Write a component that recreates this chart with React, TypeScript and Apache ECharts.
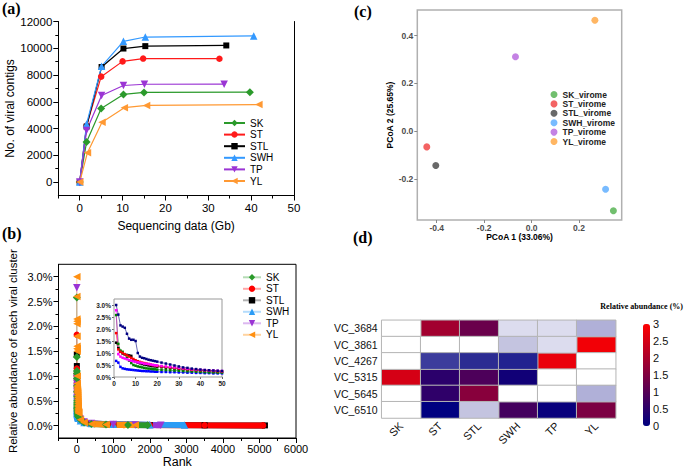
import React, { useEffect, useRef } from 'react';
import * as echarts from 'echarts';

// ---------- Panel (a): accumulation curves ----------
const aSK_x = [0, 1.6, 5.0, 10.2, 15.0, 39.7];
const aSK_y = [0, 3000, 5500, 6550, 6700, 6720];
const aST_x = [0, 1.6, 5.0, 10.0, 14.8, 32.6];
const aST_y = [0, 4200, 7880, 9020, 9230, 9220];
const aSTL_x = [0, 1.6, 5.1, 10.2, 15.3, 34.2];
const aSTL_y = [0, 4150, 8600, 9980, 10160, 10210];
const aSWH_x = [0, 1.6, 5.1, 10.2, 15.3, 40.6];
const aSWH_y = [0, 4350, 8650, 10520, 10840, 10920];
const aTP_x = [0, 1.6, 5.1, 10.2, 15.1, 33.7];
const aTP_y = [0, 3850, 6470, 7220, 7310, 7320];
const aYL_x = [0, 1.8, 5.2, 10.4, 15.6, 41.8];
const aYL_y = [0, 2200, 4480, 5560, 5730, 5790];
const aXTicks = [0, 10, 20, 30, 40, 50];
const aXMinor = [-5, 5, 15, 25, 35, 45];
const aYTicks = [0, 2000, 4000, 6000, 8000, 10000, 12000];
const aYMinor = [1000, 3000, 5000, 7000, 9000, 11000];

// ---------- Panel (b): rank-abundance ----------
const rankTop = [1, 2, 3, 4, 5, 6, 7, 8, 9, 10, 11, 12, 13, 14, 15, 16, 17, 18, 19, 20, 22, 24, 26, 28, 30, 32, 34, 36, 38, 40, 42, 44, 46, 48, 50];
const bSK_top = [2.58, 1.38, 1.1, 1.05, 0.95, 0.8, 0.68, 0.58, 0.5, 0.47, 0.44, 0.42, 0.4, 0.38, 0.36, 0.35, 0.34, 0.33, 0.32, 0.31, 0.3, 0.29, 0.28, 0.27, 0.26, 0.25, 0.24, 0.23, 0.22, 0.21, 0.2, 0.19, 0.19, 0.18, 0.18];
const bST_top = [1.83, 1.15, 1.05, 1.0, 0.95, 0.9, 0.85, 0.8, 0.75, 0.7, 0.66, 0.63, 0.6, 0.58, 0.56, 0.54, 0.52, 0.5, 0.48, 0.46, 0.44, 0.42, 0.4, 0.38, 0.36, 0.34, 0.32, 0.3, 0.29, 0.28, 0.27, 0.26, 0.25, 0.24, 0.23];
const bSTL_top = [1.43, 1.2, 1.05, 0.98, 0.95, 0.92, 0.9, 0.88, 0.7, 0.65, 0.6, 0.57, 0.54, 0.52, 0.5, 0.48, 0.46, 0.45, 0.44, 0.43, 0.41, 0.39, 0.37, 0.35, 0.33, 0.31, 0.3, 0.29, 0.28, 0.27, 0.26, 0.25, 0.24, 0.23, 0.22];
const bSWH_top = [0.67, 0.6, 0.42, 0.36, 0.34, 0.32, 0.31, 0.3, 0.29, 0.28, 0.27, 0.26, 0.25, 0.25, 0.24, 0.24, 0.23, 0.23, 0.22, 0.22, 0.21, 0.21, 0.2, 0.2, 0.19, 0.19, 0.18, 0.18, 0.17, 0.17, 0.16, 0.16, 0.15, 0.15, 0.15];
const bTP_top = [2.78, 0.95, 0.85, 0.8, 0.77, 0.74, 0.7, 0.68, 0.65, 0.63, 0.61, 0.6, 0.58, 0.56, 0.55, 0.54, 0.52, 0.5, 0.49, 0.48, 0.46, 0.44, 0.42, 0.4, 0.38, 0.36, 0.34, 0.32, 0.31, 0.3, 0.29, 0.28, 0.27, 0.26, 0.25];
const bYL_top = [3.0, 2.6, 2.15, 2.1, 2.05, 1.8, 1.6, 1.55, 1.55, 1.5, 1.0, 0.85, 0.8, 0.78, 0.75, 0.72, 0.7, 0.68, 0.66, 0.64, 0.6, 0.56, 0.52, 0.48, 0.44, 0.4, 0.38, 0.35, 0.33, 0.31, 0.29, 0.28, 0.27, 0.26, 0.25];
const bSK_tailRank = [100, 200, 400, 800, 1400, 1940];
const bSK_tailVal = [0.12, 0.06, 0.03, 0.02, 0.012, 0.008];
const bST_tailRank = [100, 200, 400, 1000, 2000, 3500, 5100];
const bST_tailVal = [0.13, 0.07, 0.04, 0.02, 0.012, 0.006, 0.004];
const bSTL_tailRank = [100, 200, 400, 1000, 2000, 3500, 5150];
const bSTL_tailVal = [0.12, 0.06, 0.035, 0.02, 0.01, 0.006, 0.004];
const bSWH_tailRank = [100, 200, 400, 1000, 2000, 2950];
const bSWH_tailVal = [0.1, 0.06, 0.04, 0.025, 0.015, 0.01];
const bTP_tailRank = [100, 200, 400, 1000, 1600, 2300];
const bTP_tailVal = [0.13, 0.07, 0.04, 0.02, 0.012, 0.008];
const bYL_tailRank = [100, 200, 400, 800, 1200, 1600];
const bYL_tailVal = [0.12, 0.06, 0.03, 0.02, 0.014, 0.01];
const bXTicks = [0, 1000, 2000, 3000, 4000, 5000, 6000];
const bXMinor = [-500, 500, 1500, 2500, 3500, 4500, 5500];
const bYTicks = [0, 0.5, 1, 1.5, 2, 2.5, 3];
const bYMinor = [0.25, 0.75, 1.25, 1.75, 2.25, 2.75];

// ---------- Panel (c): PCoA ----------
const pcoaNames = ['SK_virome', 'ST_virome', 'STL_virome', 'SWH_virome', 'TP_virome', 'YL_virome'];
const pcoa1 = [0.345, -0.442, -0.404, 0.312, -0.068, 0.267];
const pcoa2 = [-0.333, -0.066, -0.144, -0.243, 0.311, 0.464];
const pcXTicks = [-0.4, -0.2, 0, 0.2];
const pcYTicks = [-0.2, 0, 0.2, 0.4];

// ---------- Panel (d): heatmap ----------
const heatCols = ['SK', 'ST', 'STL', 'SWH', 'TP', 'YL'];
const heatRows = ['VC_3684', 'VC_3861', 'VC_4267', 'VC_5315', 'VC_5645', 'VC_6510'];
const abundance = [
  [null, 1.9, 1.25, null, null, null],
  [null, null, null, null, null, 2.85],
  [null, null, null, null, 2.75, null],
  [2.5, 0.5, 0.9, 0.2, null, null],
  [null, 0.55, 1.6, null, null, null],
  [null, 0, null, 0.8, 0.1, 1.45],
];
const shade = [
  [0, null, null, 1, 1, 3],
  [0, 0, 0, 2, 1, null],
  [0, 4, 5, 6, null, 0],
  [null, null, null, null, 0, 0],
  [0, null, null, 0, 0, 3],
  [0, null, 2, null, null, null],
];

const FONT = '"Liberation Sans", Arial, sans-serif';
const SERIF = '"Liberation Serif", "Times New Roman", serif';

const zip = (xs: number[], ys: number[]) => xs.map((x, i) => [x, ys[i]]);

function buildOption() {
  const aDefs = [
    { name: 'SK', x: aSK_x, y: aSK_y, color: '#2b9a2b', symbol: 'diamond', size: 8, rot: 0 },
    { name: 'ST', x: aST_x, y: aST_y, color: '#ff1a1a', symbol: 'circle', size: 6.5, rot: 0 },
    { name: 'STL', x: aSTL_x, y: aSTL_y, color: '#000000', symbol: 'rect', size: 6, rot: 0 },
    { name: 'SWH', x: aSWH_x, y: aSWH_y, color: '#3399ff', symbol: 'triangle', size: 7.5, rot: 0 },
    { name: 'TP', x: aTP_x, y: aTP_y, color: '#9b35d4', symbol: 'triangle', size: 7.5, rot: 180 },
    { name: 'YL', x: aYL_x, y: aYL_y, color: '#ff9933', symbol: 'triangle', size: 7.5, rot: 90 },
  ];
  const bDefs: any = {
    SK: { top: bSK_top, tr: bSK_tailRank, tv: bSK_tailVal, color: '#2a9a2a', light: 'rgba(42,154,42,0.35)', inset: '#008000', symbol: 'diamond', size: 8, rot: 0 },
    ST: { top: bST_top, tr: bST_tailRank, tv: bST_tailVal, color: '#ff0000', light: 'rgba(255,0,0,0.35)', inset: '#ff0000', symbol: 'circle', size: 6.5, rot: 0 },
    STL: { top: bSTL_top, tr: bSTL_tailRank, tv: bSTL_tailVal, color: '#000000', light: 'rgba(0,0,0,0.3)', inset: '#000000', symbol: 'rect', size: 6, rot: 0 },
    SWH: { top: bSWH_top, tr: bSWH_tailRank, tv: bSWH_tailVal, color: '#2b9cf5', light: 'rgba(43,156,245,0.35)', inset: '#0000ff', symbol: 'triangle', size: 7.5, rot: 0 },
    TP: { top: bTP_top, tr: bTP_tailRank, tv: bTP_tailVal, color: '#9b35d4', light: 'rgba(155,53,212,0.35)', inset: '#ff00ff', symbol: 'triangle', size: 7.5, rot: 180 },
    YL: { top: bYL_top, tr: bYL_tailRank, tv: bYL_tailVal, color: '#ff9011', light: 'rgba(255,144,17,0.4)', inset: '#000080', symbol: 'triangle', size: 7.5, rot: 90 },
  };
  const bOrder = ['STL', 'ST', 'SWH', 'TP', 'SK', 'YL'];
  const insetOrder = ['SWH', 'STL', 'SK', 'ST', 'TP', 'YL'];
  const pcColors = ['#4daf4a', '#f03c3c', '#444444', '#56aaff', '#b563dd', '#ffa43c'];

  const series: any[] = [];
  aDefs.forEach((d) => {
    series.push({
      type: 'line', name: d.name, xAxisIndex: 0, yAxisIndex: 0,
      data: zip(d.x, d.y), symbol: d.symbol, symbolSize: d.size, symbolRotate: d.rot,
      lineStyle: { width: 1.2, color: d.color }, itemStyle: { color: d.color },
    });
  });
  bOrder.forEach((g) => {
    const d = bDefs[g];
    series.push({
      type: 'line', name: g + ' ', xAxisIndex: 2, yAxisIndex: 3,
      data: [...zip(rankTop, d.top), ...zip(d.tr, d.tv)],
      symbol: d.symbol, symbolSize: d.size, symbolRotate: d.rot,
      lineStyle: { width: 1, color: d.light }, itemStyle: { color: d.color },
    });
  });
  bOrder.forEach((g) => {
    const d = bDefs[g];
    series.push({
      type: 'line', name: g + ' ', xAxisIndex: 2, yAxisIndex: 3,
      data: [[rankTop[rankTop.length - 1], d.top[d.top.length - 1]], ...zip(d.tr, d.tv)],
      symbol: 'none', lineStyle: { width: 6, color: d.color, cap: 'butt' },
      itemStyle: { color: d.color },
    });
  });
  insetOrder.forEach((g) => {
    const d = bDefs[g];
    series.push({
      type: 'line', name: g + '  ', xAxisIndex: 4, yAxisIndex: 5,
      data: zip(rankTop, d.top), symbol: 'rect', symbolSize: 2.5,
      lineStyle: { width: 0.6, color: d.inset }, itemStyle: { color: d.inset },
    });
  });
  pcoaNames.forEach((n, i) => {
    series.push({
      type: 'scatter', name: n, xAxisIndex: 5, yAxisIndex: 6,
      data: [[pcoa1[i], pcoa2[i]]], symbolSize: 7, itemStyle: { color: pcColors[i] },
    });
  });
  const mainData: any[] = [];
  const shadeData: any[] = [];
  heatRows.forEach((_, r) => {
    heatCols.forEach((__, c) => {
      if (abundance[r][c] !== null) mainData.push([c, r, abundance[r][c]]);
      if (shade[r][c] !== null) shadeData.push([c, r, shade[r][c]]);
    });
  });
  const idxMain = series.length;
  series.push({
    type: 'heatmap', name: 'abundance', xAxisIndex: 6, yAxisIndex: 7, data: mainData,
    itemStyle: { borderColor: '#b4b4b4', borderWidth: 1 },
  });
  const idxShade = series.length;
  series.push({
    type: 'heatmap', name: 'shade', xAxisIndex: 6, yAxisIndex: 7, data: shadeData,
    itemStyle: { borderColor: '#b4b4b4', borderWidth: 1 },
  });

  const black = '#000';
  const noSplit = { show: false };

  const xAxis: any[] = [
    { // 0 a major
      type: 'value', gridIndex: 0, min: -5, max: 50, position: 'bottom',
      axisLine: { show: true, onZero: false, lineStyle: { color: black, width: 1 } },
      axisTick: { show: true, length: 5, customValues: aXTicks, lineStyle: { color: black } },
      axisLabel: { customValues: aXTicks, fontSize: 11.5, color: black, margin: 6, formatter: (v: number) => String(v) },
      splitLine: noSplit,
      name: 'Sequencing data (Gb)', nameLocation: 'middle', nameGap: 24,
      nameTextStyle: { fontSize: 12, color: black },
    },
    { // 1 a minor
      type: 'value', gridIndex: 0, min: -5, max: 50, position: 'bottom',
      axisLine: { show: false, onZero: false },
      axisTick: { show: true, length: 3, customValues: aXMinor, lineStyle: { color: black } },
      axisLabel: { show: false }, splitLine: noSplit,
    },
    { // 2 b major
      type: 'value', gridIndex: 1, min: -500, max: 6000, position: 'bottom',
      axisLine: { show: true, onZero: false, lineStyle: { color: black, width: 1 } },
      axisTick: { show: true, length: 5, customValues: bXTicks, lineStyle: { color: black } },
      axisLabel: { customValues: bXTicks, fontSize: 11, color: black, margin: 5, formatter: (v: number) => String(v) },
      splitLine: noSplit,
      name: 'Rank', nameLocation: 'middle', nameGap: 17,
      nameTextStyle: { fontSize: 12.5, color: black },
    },
    { // 3 b minor
      type: 'value', gridIndex: 1, min: -500, max: 6000, position: 'bottom',
      axisLine: { show: false, onZero: false },
      axisTick: { show: true, length: 3, customValues: bXMinor, lineStyle: { color: black } },
      axisLabel: { show: false }, splitLine: noSplit,
    },
    { // 4 inset
      type: 'value', gridIndex: 2, min: 0, max: 50, interval: 10, position: 'bottom',
      axisLine: { show: false, onZero: false },
      axisTick: { show: true, length: 2, lineStyle: { color: '#666' } },
      axisLabel: { fontSize: 6.5, fontWeight: 'bold', color: '#222', margin: 3 },
      splitLine: noSplit,
    },
    { // 5 c
      type: 'value', gridIndex: 3, min: -0.482, max: 0.38, position: 'bottom',
      axisLine: { show: false, onZero: false },
      axisTick: { show: true, length: 3, customValues: pcXTicks, lineStyle: { color: '#888' } },
      axisLabel: { customValues: pcXTicks, fontSize: 8.5, fontWeight: 'bold', color: '#4d4d4d', margin: 3, formatter: (v: number) => v.toFixed(1) },
      splitLine: noSplit,
      name: 'PCoA 1 (33.06%)', nameLocation: 'middle', nameGap: 11,
      nameTextStyle: { fontSize: 8.5, fontWeight: 'bold', color: black },
    },
    { // 6 d
      type: 'category', gridIndex: 4, data: heatCols, position: 'bottom',
      axisLine: { show: false }, axisTick: { show: false },
      axisLabel: { rotate: 45, fontSize: 11, color: '#111', margin: 6 },
      splitLine: noSplit,
    },
    { // 7 d scale dummy
      type: 'value', gridIndex: 5, show: false, min: 0, max: 1,
    },
  ];

  const yAxis: any[] = [
    { // 0 a major
      type: 'value', gridIndex: 0, min: -1000, max: 12000, position: 'left',
      axisLine: { show: true, onZero: false, lineStyle: { color: black, width: 1 } },
      axisTick: { show: true, length: 5, customValues: aYTicks, lineStyle: { color: black } },
      axisLabel: { customValues: aYTicks, fontSize: 11.5, color: black, margin: 6, formatter: (v: number) => String(v) },
      splitLine: noSplit,
      name: 'No. of viral contigs', nameLocation: 'middle', nameGap: 42,
      nameTextStyle: { fontSize: 12, color: black },
    },
    { // 1 a minor
      type: 'value', gridIndex: 0, min: -1000, max: 12000, position: 'left',
      axisLine: { show: false, onZero: false },
      axisTick: { show: true, length: 3, customValues: aYMinor, lineStyle: { color: black } },
      axisLabel: { show: false }, splitLine: noSplit,
    },
    { // 2 a right border
      type: 'value', gridIndex: 0, min: -1000, max: 12000, position: 'right',
      axisLine: { show: true, onZero: false, lineStyle: { color: black, width: 1 } },
      axisTick: { show: false }, axisLabel: { show: false }, splitLine: noSplit,
    },
    { // 3 b major
      type: 'value', gridIndex: 1, min: -0.25, max: 3.25, position: 'left',
      axisLine: { show: true, onZero: false, lineStyle: { color: black, width: 1 } },
      axisTick: { show: true, length: 5, customValues: bYTicks, lineStyle: { color: black } },
      axisLabel: { customValues: bYTicks, fontSize: 11, color: black, margin: 6, formatter: (v: number) => v.toFixed(1) + '%' },
      splitLine: noSplit,
      name: 'Relative abundance of each viral cluster', nameLocation: 'middle', nameGap: 40,
      nameTextStyle: { fontSize: 11.5, color: black },
    },
    { // 4 b minor
      type: 'value', gridIndex: 1, min: -0.25, max: 3.25, position: 'left',
      axisLine: { show: false, onZero: false },
      axisTick: { show: true, length: 3, customValues: bYMinor, lineStyle: { color: black } },
      axisLabel: { show: false }, splitLine: noSplit,
    },
    { // 5 inset
      type: 'value', gridIndex: 2, min: 0, max: 3.25, position: 'left',
      axisLine: { show: false, onZero: false },
      axisTick: { show: true, length: 2, customValues: bYTicks, lineStyle: { color: '#666' } },
      axisLabel: { customValues: bYTicks, fontSize: 6.5, fontWeight: 'bold', color: '#222', margin: 3, formatter: (v: number) => v.toFixed(1) + '%' },
      splitLine: noSplit,
    },
    { // 6 c
      type: 'value', gridIndex: 3, min: -0.372, max: 0.507, position: 'left',
      axisLine: { show: false, onZero: false },
      axisTick: { show: true, length: 3, customValues: pcYTicks, lineStyle: { color: '#888' } },
      axisLabel: { customValues: pcYTicks, fontSize: 8.5, fontWeight: 'bold', color: '#4d4d4d', margin: 4, formatter: (v: number) => v.toFixed(1) },
      splitLine: noSplit,
      name: 'PCoA 2 (25.65%)', nameLocation: 'middle', nameGap: 16,
      nameTextStyle: { fontSize: 8.5, fontWeight: 'bold', color: black },
    },
    { // 7 d
      type: 'category', gridIndex: 4, data: heatRows, inverse: true, position: 'left',
      axisLine: { show: false }, axisTick: { show: false },
      axisLabel: { fontSize: 10.5, color: '#111', margin: 4 },
      splitLine: noSplit,
    },
    { // 8 d scale
      type: 'value', gridIndex: 5, min: 0, max: 3, interval: 0.5, position: 'right',
      axisLine: { show: false, onZero: false }, axisTick: { show: false },
      axisLabel: { fontSize: 11, color: '#111', margin: 2, formatter: (v: number) => String(v) },
      splitLine: noSplit,
    },
  ];

  return {
    animation: false,
    backgroundColor: '#ffffff',
    textStyle: { fontFamily: FONT },
    grid: [
      { left: 58.3, top: 21.5, width: 235.7, height: 174 },
      { left: 58.5, top: 264.3, width: 237.5, height: 173.7, show: true, borderColor: '#000', borderWidth: 1 },
      { left: 114, top: 299, width: 108, height: 78, show: true, borderColor: '#999', borderWidth: 1, backgroundColor: '#fff', z: 3 },
      { left: 417.3, top: 10, width: 204.4, height: 210, show: true, borderColor: '#b0b0b0', borderWidth: 1.5 },
      { left: 381.7, top: 320.3, width: 234, height: 97.7 },
      { left: 650, top: 324, width: 1, height: 102 },
    ],
    xAxis, yAxis,
    legend: [
      {
        data: ['SK', 'ST', 'STL', 'SWH', 'TP', 'YL'], orient: 'vertical', left: 223, top: 118,
        itemWidth: 21, itemHeight: 8, itemGap: 1.6, padding: 0,
        textStyle: { fontSize: 10, lineHeight: 10, color: black },
      },
      {
        data: ['SK ', 'ST ', 'STL ', 'SWH ', 'TP ', 'YL '], orient: 'vertical', left: 242, top: 272.3,
        itemWidth: 18, itemHeight: 8, itemGap: 1.5, padding: 0,
        formatter: (n: string) => n.trim(),
        textStyle: { fontSize: 10, lineHeight: 10, color: black },
      },
      {
        data: pcoaNames, orient: 'vertical', left: 550.5, top: 90, icon: 'circle',
        itemWidth: 7, itemHeight: 7, itemGap: 0.4, padding: 0,
        textStyle: { fontSize: 8.5, fontWeight: 'bold', lineHeight: 9, color: '#222' },
      },
    ],
    visualMap: [
      {
        type: 'continuous', seriesIndex: idxMain, min: 0, max: 3, orient: 'vertical',
        inRange: { color: ['#000080', '#ff0000'] }, left: 643, top: 324, itemWidth: 7, itemHeight: 102,
        calculable: false, padding: 0,
      },
      {
        type: 'piecewise', seriesIndex: idxShade, show: false,
        pieces: [
          { value: 0, color: '#ffffff' }, { value: 1, color: '#dcdcee' }, { value: 2, color: '#c4c4e0' },
          { value: 3, color: '#b0b0d8' }, { value: 4, color: '#3c3c9c' }, { value: 5, color: '#2c2c92' },
          { value: 6, color: '#222290' },
        ],
      },
    ],
    graphic: [
      { type: 'text', x: 2, y: 8, style: { text: '(a)', font: `bold 16px ${SERIF}`, fill: '#000', align: 'left', verticalAlign: 'middle' } },
      { type: 'text', x: 2, y: 233, style: { text: '(b)', font: `bold 16px ${SERIF}`, fill: '#000', align: 'left', verticalAlign: 'middle' } },
      { type: 'text', x: 354, y: 11, style: { text: '(c)', font: `bold 16px ${SERIF}`, fill: '#000', align: 'left', verticalAlign: 'middle' } },
      { type: 'text', x: 353, y: 237, style: { text: '(d)', font: `bold 16px ${SERIF}`, fill: '#000', align: 'left', verticalAlign: 'middle' } },
      { type: 'text', x: 683, y: 306, style: { text: 'Relative abundance (%)', font: `bold 8px ${SERIF}`, fill: '#000', align: 'right', verticalAlign: 'middle' } },
    ],
    series,
  };
}

export default function App() {
  const ref = useRef<HTMLDivElement>(null);
  useEffect(() => {
    if (!ref.current) return;
    const chart = echarts.init(ref.current, undefined, { renderer: 'svg' });
    chart.setOption(buildOption() as any);
    return () => chart.dispose();
  }, []);
  return (
    <div
      ref={ref}
      style={{ position: 'absolute', left: 0, top: 0, width: 685, height: 473, background: '#fff' }}
    />
  );
}
